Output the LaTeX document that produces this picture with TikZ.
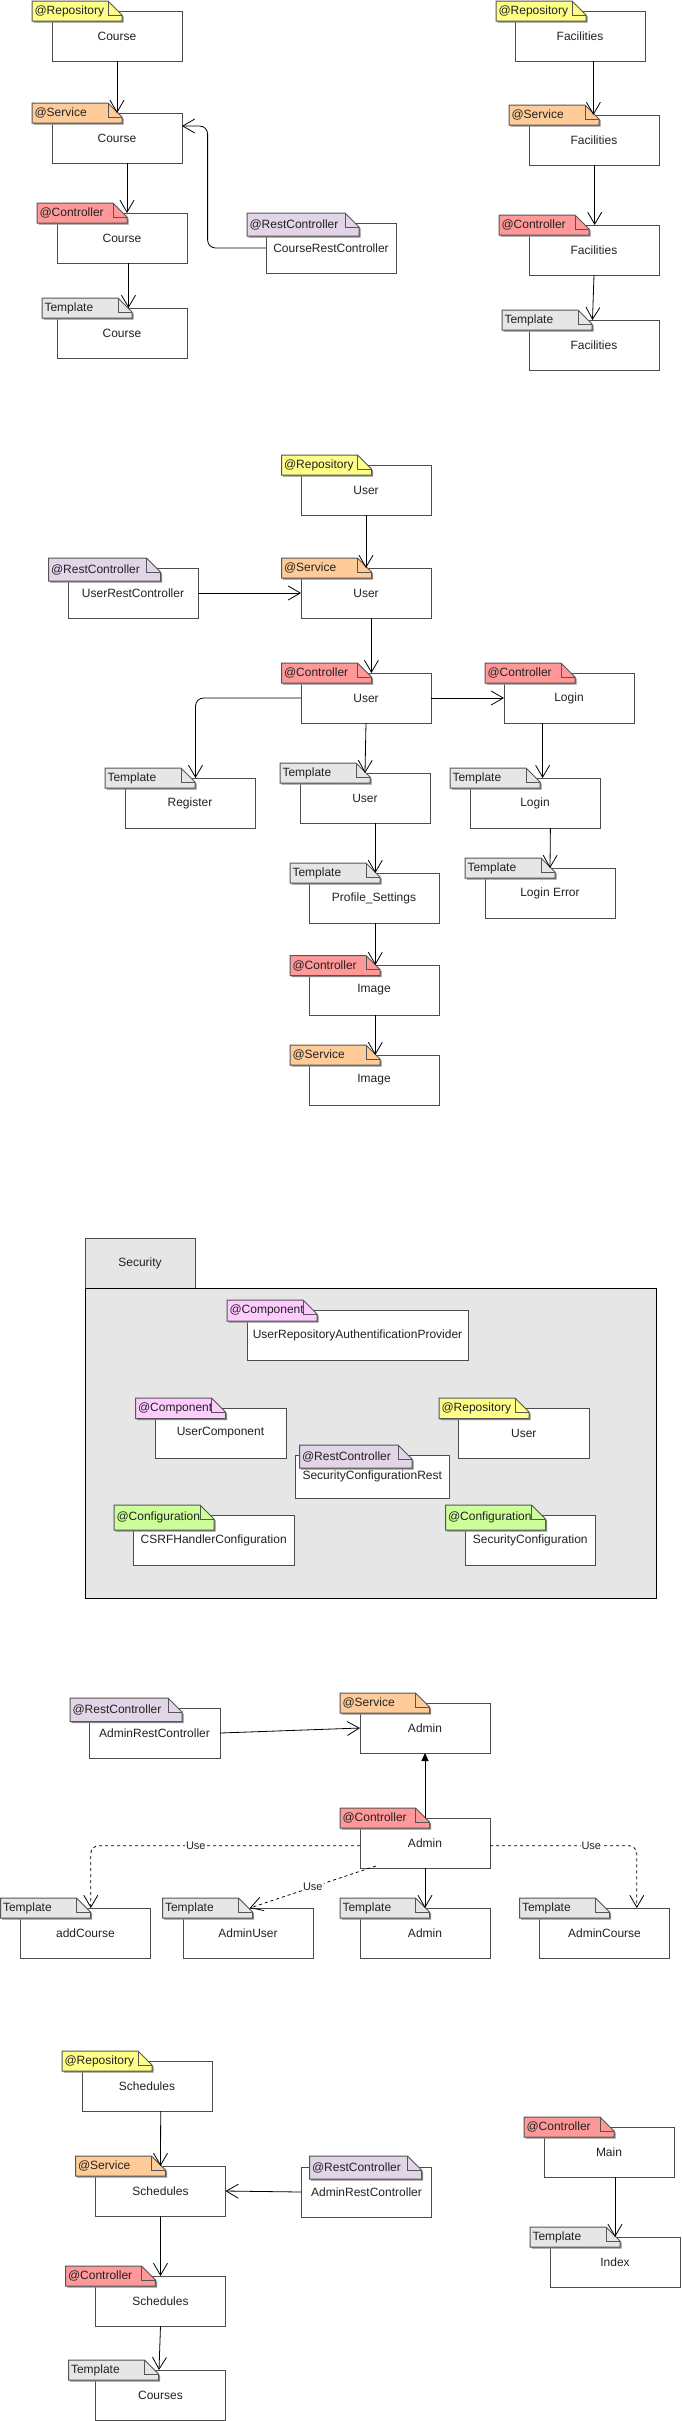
\documentclass[tikz,border=0pt]{standalone}
\usepackage{fontspec}
\setmainfont{Liberation Sans}
\usetikzlibrary{arrows.meta}
\definecolor{cRepo}{HTML}{FFFF88}
\definecolor{cServ}{HTML}{FFCC99}
\definecolor{cCtrl}{HTML}{FF9999}
\definecolor{cRest}{HTML}{E1D5E7}
\definecolor{cTmpl}{HTML}{E6E6E6}
\definecolor{cComp}{HTML}{FFCCFF}
\definecolor{cConf}{HTML}{CCFF99}
\definecolor{boxline}{HTML}{4D4D4D}
\definecolor{tabedge}{HTML}{555555}
\definecolor{pkgfill}{HTML}{E6E6E6}
\definecolor{txt}{HTML}{222222}
\tikzset{
  ubox/.style={draw=boxline, line width=1pt, fill=white, text=txt, inner sep=0pt, outer sep=0pt, font=\fontsize{12}{14}\selectfont},
  tabline/.style={draw=tabedge, line width=1pt, line join=miter},
  tabshadow/.style={fill=black!45},
  tablabel/.style={inner sep=0pt, outer sep=0pt, anchor=west, text=txt, font=\fontsize{12}{14}\selectfont},
  conn/.style={draw=black, line width=0.8pt, -{Straight Barb[length=12pt,width=14pt]}},
  useconn/.style={conn, dash pattern=on 3pt off 3pt},
  blockconn/.style={draw=black, line width=1pt, -{Triangle[length=8pt,width=7pt]}},
  uselabel/.style={fill=white, inner sep=1pt, text=txt, font=\fontsize{11}{13}\selectfont},
  pkg/.style={draw=boxline, line width=1pt, fill=pkgfill, text=txt, inner sep=0pt, outer sep=0pt, font=\fontsize{12}{14}\selectfont},
}
% box: name, x, y, w, h, text
\newcommand{\ubx}[6]{\node[ubox, minimum width=#4pt, minimum height=#5pt] (#1) at ({#2+#4/2},{#3+#5/2}) {#6};}
% tab: name, colour, x, y, w, h, text
\newcommand{\utb}[7]{%
  \fill[tabshadow] ({#3+1.5},{#4+1.5}) -- ({#3+#5-12.5},{#4+1.5}) -- ({#3+#5+1.5},{#4+15.5}) -- ({#3+#5+1.5},{#4+#6+1.5}) -- ({#3+1.5},{#4+#6+1.5}) -- cycle;
  \filldraw[tabline, fill=#2] (#3,#4) -- ({#3+#5-14},#4) -- ({#3+#5},{#4+14}) -- ({#3+#5},{#4+#6}) -- (#3,{#4+#6}) -- cycle;
  \draw[tabline] ({#3+#5-14},#4) -- ({#3+#5-14},{#4+14}) -- ({#3+#5},{#4+14});
  \node[tablabel] (#1) at ({#3+2.5},{#4+#6/2}) {#7};}
\begin{document}
\begin{tikzpicture}[x=1pt,y=-1pt]
\useasboundingbox (0,0) rectangle (681,2421);
% ---------------- Course / Facilities
\ubx{repoCourse}{52}{11}{130}{50}{Course}
\utb{repoCourseT}{cRepo}{32}{1}{90}{20}{@Repository}
\ubx{servCourse}{52}{113}{130}{50}{Course}
\utb{servCourseT}{cServ}{32}{103}{90}{20}{@Service}
\ubx{ctrlCourse}{57}{213}{130}{50}{Course}
\utb{ctrlCourseT}{cCtrl}{37}{203}{90}{20}{@Controller}
\ubx{tmplCourse}{57}{308}{130}{50}{Course}
\utb{tmplCourseT}{cTmpl}{42}{298}{90}{20}{Template}
\ubx{restCourse}{266}{223}{130}{50}{CourseRestController}
\utb{restCourseT}{cRest}{247}{213}{112}{23}{@RestController}
\ubx{repoFac}{515}{11}{130}{50}{Facilities}
\utb{repoFacT}{cRepo}{496}{1}{90}{20}{@Repository}
\ubx{servFac}{529}{115}{130}{50}{Facilities}
\utb{servFacT}{cServ}{509}{105}{90}{20}{@Service}
\ubx{ctrlFac}{529}{225}{130}{50}{Facilities}
\utb{ctrlFacT}{cCtrl}{499}{215}{90}{20}{@Controller}
\ubx{tmplFac}{529}{320}{130}{50}{Facilities}
\utb{tmplFacT}{cTmpl}{502}{310}{90}{20}{Template}
\draw[conn] (repoCourse.south) -- (servCourse.north);
\draw[conn] ([xshift=10pt]servCourse.south) -- ([xshift=5pt]ctrlCourse.north);
\draw[conn] ([xshift=6.5pt]ctrlCourse.south) -- ([xshift=6.5pt]tmplCourse.north);
\draw[conn, rounded corners=8pt] (restCourse.west) -- (207.6,248) -- (207.6,126) -- ([yshift=12pt]servCourse.east);
\draw[conn] ([xshift=13.4pt]repoFac.south) -- ([xshift=-0.6pt]servFac.north);
\draw[conn] ([xshift=0.7pt]servFac.south) -- ([xshift=0.7pt]ctrlFac.north);
\draw[conn] (ctrlFac.south) -- ([xshift=-1.5pt]tmplFac.north);
% ---------------- User
\ubx{repoUser}{301}{465}{130}{50}{User}
\utb{repoUserT}{cRepo}{281.5}{455}{90}{20}{@Repository}
\ubx{restUser}{68}{568}{130}{50}{UserRestController}
\utb{restUserT}{cRest}{48.5}{558}{112}{23}{@RestController}
\ubx{servUser}{301}{568}{130}{50}{User}
\utb{servUserT}{cServ}{281.5}{558}{90}{20}{@Service}
\ubx{ctrlUser}{301}{673}{130}{50}{User}
\utb{ctrlUserT}{cCtrl}{281.5}{663}{90}{20}{@Controller}
\ubx{ctrlLogin}{504}{673}{130}{50}{Login}
\utb{ctrlLoginT}{cCtrl}{485}{663}{90}{20}{@Controller}
\ubx{tmplRegister}{125}{778}{130}{50}{Register}
\utb{tmplRegisterT}{cTmpl}{105}{768}{90}{20}{Template}
\ubx{tmplUser}{300}{773}{130}{50}{User}
\utb{tmplUserT}{cTmpl}{280}{763}{90}{20}{Template}
\ubx{tmplLogin}{470}{778}{130}{50}{Login}
\utb{tmplLoginT}{cTmpl}{450}{768}{90}{20}{Template}
\ubx{tmplProfile}{309}{873}{130}{50}{Profile\_Settings}
\utb{tmplProfileT}{cTmpl}{290}{863}{90}{20}{Template}
\ubx{tmplLoginErr}{485}{868}{130}{50}{Login Error}
\utb{tmplLoginErrT}{cTmpl}{465}{858}{90}{20}{Template}
\ubx{ctrlImage}{309}{965}{130}{50}{Image}
\utb{ctrlImageT}{cCtrl}{290}{955.5}{90}{20}{@Controller}
\ubx{servImage}{309}{1055}{130}{50}{Image}
\utb{servImageT}{cServ}{290}{1045}{90}{20}{@Service}
\draw[conn] (repoUser.south) -- (servUser.north);
\draw[conn] (restUser.east) -- (servUser.west);
\draw[conn] ([xshift=5.4pt]servUser.south) -- ([xshift=5.4pt]ctrlUser.north);
\draw[conn] (ctrlUser.east) -- (ctrlLogin.west);
\draw[conn, rounded corners=8pt] (ctrlUser.west) -- (195.5,698) -- ([xshift=5.5pt]tmplRegister.north);
\draw[conn] (ctrlUser.south) -- (tmplUser.north);
\draw[conn] ([xshift=-26.4pt]ctrlLogin.south) -- ([xshift=7.6pt]tmplLogin.north);
\draw[conn] ([xshift=10.3pt]tmplUser.south) -- ([xshift=1.3pt]tmplProfile.north);
\draw[conn] ([xshift=15.4pt]tmplLogin.south) -- (tmplLoginErr.north);
\draw[conn] ([xshift=1.3pt]tmplProfile.south) -- ([xshift=1.3pt]ctrlImage.north);
\draw[conn] ([xshift=1.3pt]ctrlImage.south) -- ([xshift=1.3pt]servImage.north);
% ---------------- Security
\node[pkg, minimum width=110pt, minimum height=50pt] (secTab) at (140,1263) {Security};
\node[pkg, draw=black, minimum width=571pt, minimum height=310pt] (secBody) at (370.5,1443) {};
\ubx{compAuth}{247}{1310}{221}{50}{UserRepositoryAuthentificationProvider}
\utb{compAuthT}{cComp}{227}{1300}{90}{21}{@Component}
\ubx{compUser}{155}{1408}{131}{50}{UserComponent}
\utb{compUserT}{cComp}{135.5}{1398}{90}{20.5}{@Component}
\ubx{repoSecUser}{458.5}{1408}{130.5}{50}{User}
\utb{repoSecUserT}{cRepo}{439}{1398}{90}{20.5}{@Repository}
\ubx{restSec}{295}{1455}{154.5}{43}{SecurityConfigurationRest}
\utb{restSecT}{cRest}{299.5}{1445}{112.5}{23}{@RestController}
\ubx{confCsrf}{133.5}{1515}{160.5}{50}{CSRFHandlerConfiguration}
\utb{confCsrfT}{cConf}{114}{1505}{100}{25}{@Configuration}
\ubx{confSec}{465}{1515}{130.5}{50}{SecurityConfiguration}
\utb{confSecT}{cConf}{445.5}{1505}{100}{25}{@Configuration}
% ---------------- Admin
\ubx{restAdmin}{89}{1708}{131}{50}{AdminRestController}
\utb{restAdminT}{cRest}{70}{1698}{112}{23.5}{@RestController}
\ubx{servAdmin}{360}{1703}{130}{50}{Admin}
\utb{servAdminT}{cServ}{340}{1693}{89.5}{20}{@Service}
\ubx{ctrlAdmin}{360}{1818}{130}{50}{Admin}
\utb{ctrlAdminT}{cCtrl}{340}{1808}{89.5}{20}{@Controller}
\ubx{tmplAddCourse}{20.5}{1908}{130}{50}{addCourse}
\utb{tmplAddCourseT}{cTmpl}{0.5}{1898}{90}{20}{Template}
\ubx{tmplAdminUser}{183}{1908}{130}{50}{AdminUser}
\utb{tmplAdminUserT}{cTmpl}{162.5}{1898}{90}{20}{Template}
\ubx{tmplAdmin}{360}{1908}{130}{50}{Admin}
\utb{tmplAdminT}{cTmpl}{340}{1898}{89.5}{20}{Template}
\ubx{tmplAdminCourse}{539.5}{1908}{130}{50}{AdminCourse}
\utb{tmplAdminCourseT}{cTmpl}{519.5}{1898}{90}{20}{Template}
\draw[conn] (restAdmin.east) -- (servAdmin.west);
\draw[blockconn] (ctrlAdmin.north) -- (servAdmin.south);
\draw[conn] (ctrlAdmin.south) -- (tmplAdmin.north);
\draw[useconn, rounded corners=8pt] ([yshift=-2.7pt]ctrlAdmin.west) -- node[uselabel, pos=0.61] {Use} (90.8,1845.7) -- ([xshift=5.3pt]tmplAddCourse.north);
\draw[useconn, rounded corners=8pt] ([yshift=-2.7pt]ctrlAdmin.east) -- node[uselabel, pos=0.69] {Use} (636.8,1845.7) -- ([xshift=32.3pt]tmplAdminCourse.north);
\draw[useconn] ([xshift=-49.2pt,yshift=2pt]ctrlAdmin.south) -- node[uselabel, pos=0.5] {Use} ([xshift=1.8pt]tmplAdminUser.north);
% ---------------- Schedules / Main
\ubx{repoSched}{82}{2061}{130}{50}{Schedules}
\utb{repoSchedT}{cRepo}{62}{2051}{90}{20}{@Repository}
\ubx{servSched}{95.5}{2166}{130}{50}{Schedules}
\utb{servSchedT}{cServ}{75.5}{2156}{90}{20}{@Service}
\ubx{restSched}{301.5}{2167}{130}{50}{AdminRestController}
\utb{restSchedT}{cRest}{309.5}{2156}{112}{23}{@RestController}
\ubx{ctrlSched}{95.5}{2276}{130}{50}{Schedules}
\utb{ctrlSchedT}{cCtrl}{65.5}{2266}{90}{20}{@Controller}
\ubx{tmplCourses}{95.5}{2370}{130}{50}{Courses}
\utb{tmplCoursesT}{cTmpl}{68.5}{2360}{90}{20}{Template}
\ubx{ctrlMain}{544}{2127}{130}{50}{Main}
\utb{ctrlMainT}{cCtrl}{524}{2117}{90}{20}{@Controller}
\ubx{tmplIndex}{550}{2237}{130}{50}{Index}
\utb{tmplIndexT}{cTmpl}{530}{2227}{90}{20}{Template}
\draw[conn] ([xshift=13.7pt]repoSched.south) -- (servSched.north);
\draw[conn] (servSched.south) -- (ctrlSched.north);
\draw[conn] (ctrlSched.south) -- ([xshift=-1.5pt]tmplCourses.north);
\draw[conn] (restSched.west) -- (servSched.east);
\draw[conn] ([xshift=6pt]ctrlMain.south) -- (tmplIndex.north);
\end{tikzpicture}
\end{document}
